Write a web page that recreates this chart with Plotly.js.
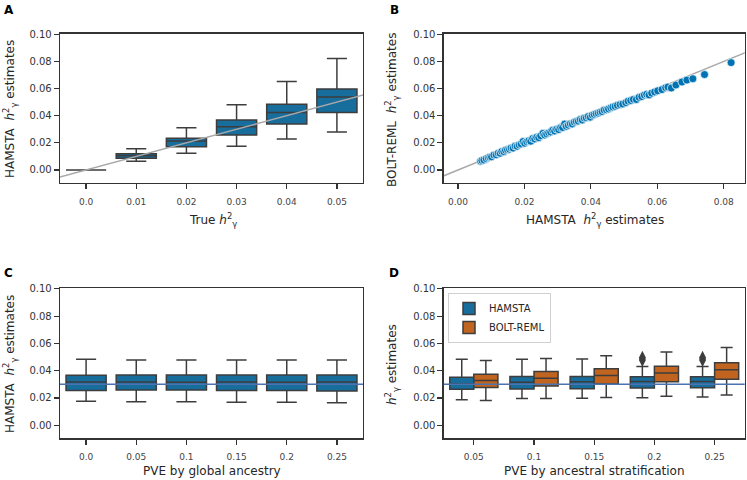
<!DOCTYPE html>
<html>
<head>
<meta charset="utf-8">
<script src="https://cdn.plot.ly/plotly-3.0.1.min.js"></script>
<style>html,body{margin:0;padding:0;background:#fff}#chart{width:747px;height:480px}</style>
</head>
<body>
<div id="chart"></div>
<script>
// ---------- Panel A: HAMSTA estimates vs true h2 ----------
const truthLevels = [0, 0.01, 0.02, 0.03, 0.04, 0.05];
const truthLabels = ['0.0', '0.01', '0.02', '0.03', '0.04', '0.05'];
const aLower = [0, 0.0064, 0.0123, 0.0174, 0.0228, 0.0279];
const aQ1    = [0, 0.0086, 0.0172, 0.0257, 0.0338, 0.0424];
const aMed   = [0, 0.0105, 0.0213, 0.0319, 0.0424, 0.0537];
const aQ3    = [0, 0.0120, 0.0233, 0.0368, 0.0485, 0.0596];
const aUpper = [0, 0.0157, 0.0311, 0.0480, 0.0652, 0.0821];

// ---------- Panel B: BOLT-REML vs HAMSTA ----------
const hamstaEst = [0.0068,0.0072,0.0078,0.0085,0.0091,0.0096,0.0101,0.0108,0.0115,0.0121,0.0127,0.0132,0.0138,0.0143,0.0149,0.0155,0.0160,0.0166,0.0172,0.0178,0.0184,0.0190,0.0196,0.0201,0.0207,0.0213,0.0219,0.0225,0.0231,0.0237,0.0243,0.0249,0.0256,0.0261,0.0267,0.0273,0.0279,0.0285,0.0291,0.0297,0.0303,0.0309,0.0315,0.0321,0.0326,0.0332,0.0338,0.0344,0.0350,0.0356,0.0362,0.0368,0.0374,0.0380,0.0386,0.0392,0.0398,0.0404,0.0410,0.0416,0.0422,0.0428,0.0434,0.0440,0.0447,0.0453,0.0460,0.0466,0.0473,0.0480,0.0488,0.0496,0.0505,0.0512,0.0520,0.0528,0.0537,0.0545,0.0553,0.0561,0.0568,0.0575,0.0583,0.0592,0.0601,0.0614,0.0625,0.0632,0.0642,0.0656,0.0674,0.0689,0.0707,0.0742,0.0822];
const boltEst   = [0.0065,0.0070,0.0074,0.0083,0.0090,0.0095,0.0097,0.0110,0.0112,0.0124,0.0123,0.0137,0.0135,0.0146,0.0150,0.0153,0.0162,0.0161,0.0176,0.0174,0.0185,0.0192,0.0210,0.0197,0.0208,0.0215,0.0212,0.0232,0.0228,0.0241,0.0238,0.0252,0.0270,0.0258,0.0266,0.0275,0.0280,0.0292,0.0287,0.0300,0.0298,0.0312,0.0313,0.0338,0.0322,0.0330,0.0340,0.0339,0.0352,0.0358,0.0360,0.0371,0.0368,0.0382,0.0385,0.0394,0.0389,0.0404,0.0409,0.0415,0.0419,0.0426,0.0430,0.0441,0.0443,0.0450,0.0458,0.0464,0.0469,0.0476,0.0482,0.0486,0.0496,0.0507,0.0512,0.0520,0.0519,0.0535,0.0541,0.0552,0.0558,0.0553,0.0566,0.0575,0.0583,0.0592,0.0606,0.0611,0.0604,0.0626,0.0648,0.0662,0.0672,0.0703,0.0791];

// ---------- Panel C: PVE by global ancestry ----------
const globalPve = [0, 0.05, 0.1, 0.15, 0.2, 0.25];
const globalLabels = ['0.0', '0.05', '0.1', '0.15', '0.2', '0.25'];
const cLower = [0.0175, 0.0172, 0.0172, 0.0168, 0.0168, 0.0165];
const cQ1    = [0.0254, 0.0258, 0.0258, 0.0255, 0.0254, 0.0250];
const cMed   = [0.0316, 0.0316, 0.0315, 0.0316, 0.0315, 0.0316];
const cQ3    = [0.0367, 0.0368, 0.0368, 0.0368, 0.0368, 0.0368];
const cUpper = [0.0483, 0.0478, 0.0478, 0.0478, 0.0478, 0.0478];

// ---------- Panel D: PVE by ancestral stratification ----------
const stratPve = [0.05, 0.1, 0.15, 0.2, 0.25];
const stratLabels = ['0.05', '0.1', '0.15', '0.2', '0.25'];
const hLower = [0.0187, 0.0195, 0.0197, 0.0202, 0.0207];
const hQ1    = [0.0264, 0.0266, 0.0268, 0.0273, 0.0275];
const hMed   = [0.0303, 0.0315, 0.0318, 0.0320, 0.0320];
const hQ3    = [0.0352, 0.0357, 0.0357, 0.0355, 0.0355];
const hUpper = [0.0483, 0.0483, 0.0485, 0.0431, 0.0431];
const hOutlierPve = [0.2, 0.2, 0.25, 0.25];
const hOutlierVal = [0.0478, 0.0494, 0.0478, 0.0494];
const bLower = [0.0182, 0.0195, 0.0204, 0.0212, 0.0222];
const bQ1    = [0.0276, 0.0288, 0.0303, 0.0318, 0.0337];
const bMed   = [0.0328, 0.0345, 0.0365, 0.0382, 0.0406];
const bQ3    = [0.0374, 0.0394, 0.0414, 0.0433, 0.0458];
const bUpper = [0.0475, 0.0490, 0.0510, 0.0537, 0.0569];

const trueH2 = 0.03;
const identityLine = [-0.01, 0.1];
const yTicks = [0, 0.02, 0.04, 0.06, 0.08, 0.10];
const bTicks = [0, 0.02, 0.04, 0.06, 0.08];

// ---------- styling ----------
const BLUE = '#176d9c', ORANGE = '#c0641f', EDGE = '#3d3d3d', REF = '#4c72b0';
const FONT = 'DejaVu Sans, sans-serif';
const W = 747, H = 480;
const BOXGAP = 0.2;
const px = v => v / W, py = v => 1 - v / H;

// HAMSTA box in panel D sits at the left quarter of each group
const stratStep = stratPve[1] - stratPve[0];
const hamstaShift = -stratStep * (1 - BOXGAP) / 4;

const boxStyle = (color) => ({
  type: 'box', fillcolor: color, line: {color: EDGE, width: 1.5},
  whiskerwidth: 0.5, boxpoints: false, hoverinfo: 'skip'
});

const traces = [
  Object.assign(boxStyle(BLUE), {x: truthLevels, q1: aQ1, median: aMed, q3: aQ3,
    lowerfence: aLower, upperfence: aUpper, xaxis: 'x', yaxis: 'y', showlegend: false,
    alignmentgroup: 'A', offsetgroup: 'A'}),
  {type: 'scatter', mode: 'lines', x: identityLine, y: identityLine, xaxis: 'x', yaxis: 'y',
    line: {color: '#a8a8a8', width: 1.5}, showlegend: false, hoverinfo: 'skip'},

  {type: 'scatter', mode: 'lines', x: identityLine, y: identityLine, xaxis: 'x2', yaxis: 'y2',
    line: {color: '#a8a8a8', width: 1.5}, showlegend: false, hoverinfo: 'skip'},
  {type: 'scatter', mode: 'markers', x: hamstaEst, y: boltEst, xaxis: 'x2', yaxis: 'y2',
    marker: {color: '#0173b2', size: 8, line: {color: '#ffffff', width: 0.7}}, showlegend: false},

  Object.assign(boxStyle(BLUE), {x: globalPve, q1: cQ1, median: cMed, q3: cQ3,
    lowerfence: cLower, upperfence: cUpper, xaxis: 'x3', yaxis: 'y3', showlegend: false,
    alignmentgroup: 'C', offsetgroup: 'C'}),

  Object.assign(boxStyle(BLUE), {name: 'HAMSTA', x: stratPve, q1: hQ1, median: hMed, q3: hQ3,
    lowerfence: hLower, upperfence: hUpper, xaxis: 'x4', yaxis: 'y4',
    alignmentgroup: 'D', offsetgroup: 'h'}),
  Object.assign(boxStyle(ORANGE), {name: 'BOLT-REML', x: stratPve, q1: bQ1, median: bMed, q3: bQ3,
    lowerfence: bLower, upperfence: bUpper, xaxis: 'x4', yaxis: 'y4',
    alignmentgroup: 'D', offsetgroup: 'b'}),
  {type: 'scatter', mode: 'markers', x: hOutlierPve.map(v => v + hamstaShift), y: hOutlierVal,
    xaxis: 'x4', yaxis: 'y4', showlegend: false, hoverinfo: 'skip',
    marker: {symbol: 'diamond-tall', size: 10, color: EDGE}}
];

const axBase = {
  showline: true, mirror: true, linecolor: '#333', linewidth: 1.3,
  ticks: 'outside', ticklen: 5, tickwidth: 1.2, tickcolor: '#333',
  showgrid: false, zeroline: false, fixedrange: true
};
const xAx = (dom, range, vals, text) => Object.assign({}, axBase, {
  domain: dom, range: range, tickvals: vals, ticktext: text,
  tickfont: {family: FONT, size: 9, color: '#444'}, ticklabelstandoff: 5
});
const yAx = (dom, anchor) => Object.assign({}, axBase, {
  domain: dom, range: [-0.0096, 0.1004], tickvals: yTicks, tickformat: '.2f',
  tickfont: {family: FONT, size: 10, color: '#333'}, anchor: anchor
});

const leftDom = [px(60), px(363)], rightDom = [px(443.7), px(744.7)];
const topDom = [py(183), py(33.7)], botDom = [py(438.3), py(288.3)];

const layout = {
  width: W, height: H, margin: {l: 0, r: 0, t: 0, b: 0},
  paper_bgcolor: '#fff', plot_bgcolor: '#fff',
  font: {family: FONT, color: '#262626'},
  boxmode: 'group', boxgap: BOXGAP, boxgroupgap: 0,
  xaxis: Object.assign(xAx(leftDom, [-0.0052, 0.0552], truthLevels, truthLabels), {anchor: 'y'}),
  yaxis: yAx(topDom, 'x'),
  xaxis2: Object.assign({}, axBase, {domain: rightDom, range: [-0.0043, 0.0863], tickvals: bTicks, tickformat: '.2f',
    tickfont: {family: FONT, size: 9, color: '#444'}, ticklabelstandoff: 5, anchor: 'y2'}),
  yaxis2: yAx(topDom, 'x2'),
  xaxis3: Object.assign(xAx(leftDom, [-0.026, 0.276], globalPve, globalLabels), {anchor: 'y3'}),
  yaxis3: yAx(botDom, 'x3'),
  xaxis4: Object.assign(xAx(rightDom, [0.025, 0.275], stratPve, stratLabels), {anchor: 'y4'}),
  yaxis4: yAx(botDom, 'x4'),
  shapes: [
    {type: 'line', xref: 'x3 domain', x0: 0, x1: 1, yref: 'y3', y0: trueH2, y1: trueH2, line: {color: REF, width: 1.5}},
    {type: 'line', xref: 'x4 domain', x0: 0, x1: 1, yref: 'y4', y0: trueH2, y1: trueH2, line: {color: REF, width: 1.5}}
  ],
  legend: {x: px(448), y: py(293), xanchor: 'left', yanchor: 'top', bgcolor: '#fff',
    bordercolor: '#d0d0d0', borderwidth: 1, font: {family: FONT, size: 10, color: '#262626'},
    tracegroupgap: 0, itemwidth: 30},
  annotations: []
};

const h2 = '<i>h</i><sup>2</sup><sub>γ</sub>';
const ann = (text, x, y, opts) => Object.assign({text: text, x: px(x), y: py(y), xref: 'paper', yref: 'paper',
  showarrow: false, xanchor: 'center', yanchor: 'middle', font: {family: FONT, size: 12, color: '#262626'}}, opts || {});
const letter = (t, x, y) => ann('<b>' + t + '</b>', x, y, {xanchor: 'left', yanchor: 'top', font: {family: FONT, size: 12, color: '#000'}});

layout.annotations.push(
  letter('A', 2, 1), letter('B', 388, 1), letter('C', 2, 264), letter('D', 387, 264),
  ann('HAMSTA  ' + h2 + ' estimates', 10, 109, {textangle: -90}),
  ann('BOLT-REML  ' + h2 + ' estimates', 392, 110, {textangle: -90}),
  ann('HAMSTA  ' + h2 + ' estimates', 10, 364, {textangle: -90}),
  ann(h2 + ' estimates', 392, 365, {textangle: -90}),
  ann('True ' + h2, 213, 220),
  ann('HAMSTA  ' + h2 + ' estimates', 595, 220),
  ann('PVE by global ancestry', 212, 471),
  ann('PVE by ancestral stratification', 594, 471)
);

Plotly.newPlot('chart', traces, layout, {staticPlot: true, displayModeBar: false});
</script>
</body>
</html>
